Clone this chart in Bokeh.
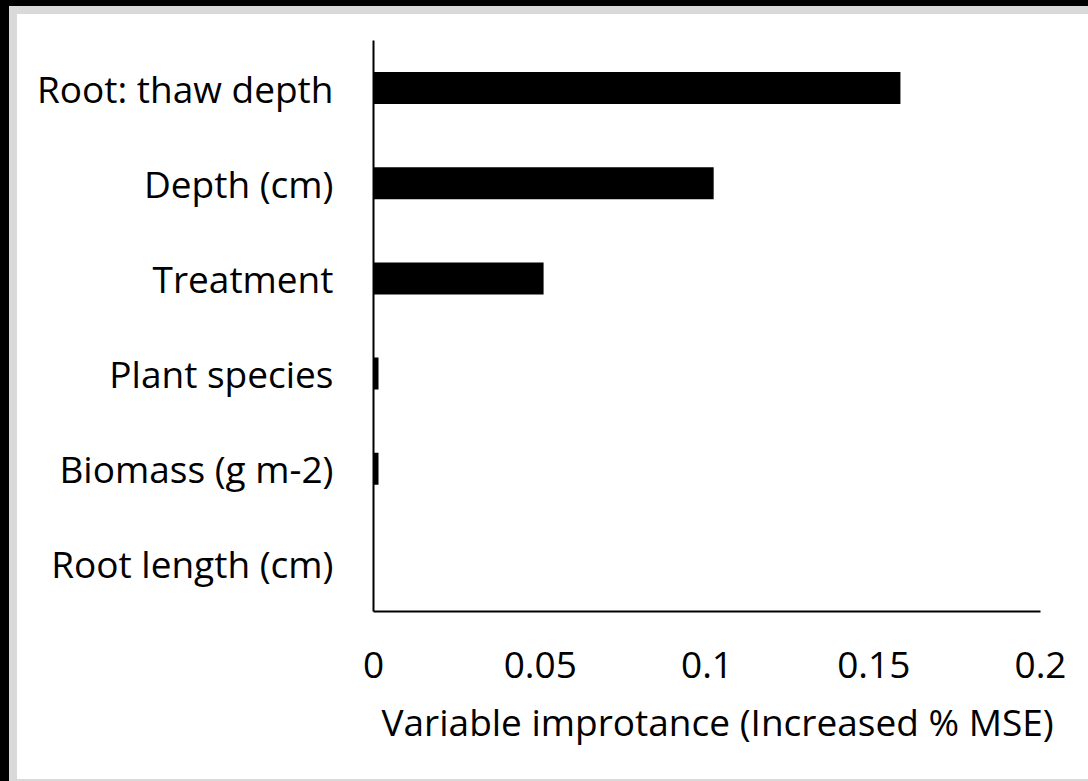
from bokeh.plotting import figure
from bokeh.models import FactorRange, Range1d, FixedTicker, Title, CustomJSTickFormatter
from bokeh.embed import file_html
from bokeh.resources import INLINE

# Predictors, top to bottom, and their variable importance (increase in % MSE)
predictors = ["Root: thaw depth", "Depth (cm)", "Treatment",
              "Plant species", "Biomass (g m-2)", "Root length (cm)"]
importance = [0.158, 0.102, 0.051, 0.0015, 0.0015, -0.0004]

x_ticks = [0, 0.05, 0.1, 0.15, 0.2]
x_tick_labels = ["0", "0.05", "0.1", "0.15", "0.2"]
x_title = "Variable improtance (Increased % MSE)"

FONT = "Open Sans"
FS = "37px"

p = figure(width=1071, height=765,
           y_range=FactorRange(factors=predictors[::-1]),
           x_range=Range1d(0, 0.2),
           output_backend="svg", toolbar_location=None,
           min_border_left=356, min_border_right=48,
           min_border_top=26, min_border_bottom=168,
           margin=(14, 0, 2, 17))

# picture frame drawn with shadows so the plot keeps its size:
# a light grey band around the chart and a dark edge on the left and top
GREY = "#d9d9d9"
frame_shadows = [
    f"-8px 0 0 0 {GREY}", f"0 -8px 0 0 {GREY}", f"-8px -8px 0 0 {GREY}",
    f"0 2px 0 0 {GREY}", f"-8px 2px 0 0 {GREY}",
    "-17px 0 0 0 black", "0 -14px 0 0 black",
    "-17px -14px 0 0 black", "-17px 2px 0 0 black",
]
p.styles = {"box-shadow": ", ".join(frame_shadows)}

p.hbar(y=predictors, left=0, right=importance, height=0.336,
       fill_color="black", line_color=None)

p.grid.visible = False
p.outline_line_color = None
p.background_fill_color = "white"
p.border_fill_color = "white"

for ax in (p.xaxis[0], p.yaxis[0]):
    ax.axis_line_color = "black"
    ax.axis_line_width = 2
    ax.major_tick_line_color = None
    ax.minor_tick_line_color = None
    ax.major_tick_out = 0
    ax.major_tick_in = 0
    ax.major_label_text_font = FONT
    ax.major_label_text_font_size = FS
    ax.major_label_text_color = "black"

p.yaxis.major_label_standoff = 40
p.xaxis.major_label_standoff = 40
p.xaxis.ticker = FixedTicker(ticks=x_ticks)
p.xaxis.formatter = CustomJSTickFormatter(args=dict(labels=x_tick_labels),
                                          code="return labels[index];")

# axis title under the tick labels
p.add_layout(Title(text=x_title, align="left", offset=8, standoff=27,
                   text_font=FONT, text_font_size=FS, text_color="black",
                   text_font_style="normal"), "below")

open("out.html", "w").write(file_html(p, INLINE))
